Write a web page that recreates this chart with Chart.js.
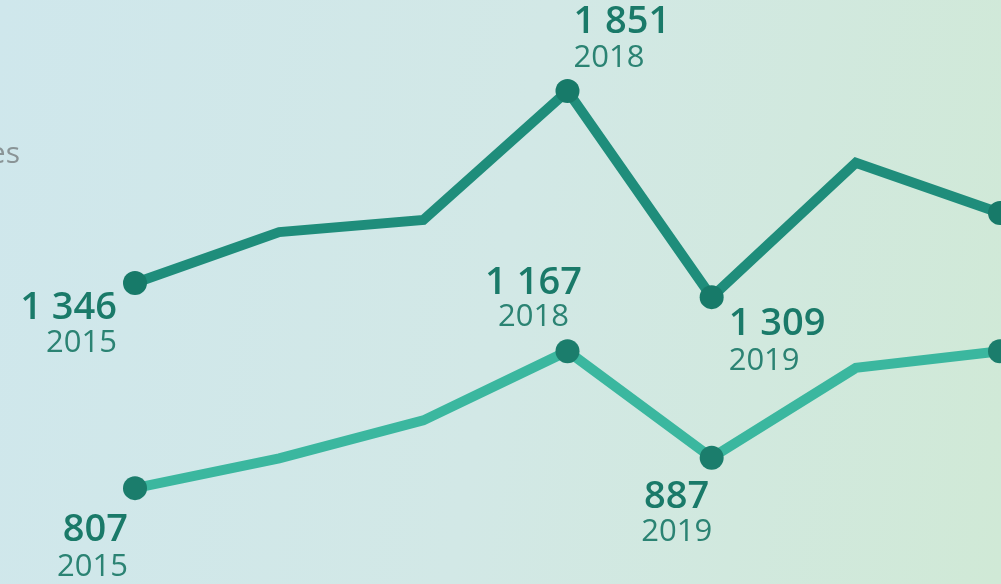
<!DOCTYPE html>
<html>
<head>
<meta charset="utf-8">
<script src="https://cdn.jsdelivr.net/npm/chart.js@4"></script>
<style>
    html, body { margin: 0; padding: 0; }
    body {
        width: 1001px; height: 584px; overflow: hidden;
        background: linear-gradient(100deg, #cfe7ec 0%, #d2e8e6 50%, #d0e9d6 100%);
    }
    #wrap { position: relative; width: 1001px; height: 584px; }
</style>
</head>
<body>
<div id="wrap"><canvas id="myChart"></canvas></div>
<script>
// Données
const annees = ["2015", "2016", "2017", "2018", "2019", "2020", "2021"];
const serieHaut = [1346, 1480, 1512, 1851, 1309, 1662, 1530];
const serieBas = [807, 885, 985, 1167, 887, 1123, 1167];
// Points affichés (avec un rond) et points annotés
const pointsVisibles = [0, 3, 4, 6];
const pointsAnnotes = [0, 3, 4];
const legendeCoupee = "es";

// Placement des étiquettes par rapport au point (style seulement)
const placementHaut = [
    {align: "right", dx: -18, dyVal: 25, dyAn: 60},
    {align: "left", dx: 6, dyVal: -69, dyAn: -33},
    {align: "left", dx: 17, dyVal: 27, dyAn: 64}
];
const placementBas = [
    {align: "right", dx: -7, dyVal: 42, dyAn: 79},
    {align: "center", dx: -34, dyVal: -68, dyAn: -34},
    {align: "center", dx: -35, dyVal: 39, dyAn: 74}
];

function formater(n) {
    return String(n).replace(/\B(?=(\d{3})+(?!\d))/g, " ");
}

function rayons(n) {
    let r = [];
    for (let i = 0; i < n; i++) {
        r.push(pointsVisibles.includes(i) ? 12 : 0);
    }
    return r;
}

// Plugin pour dessiner les valeurs et les années à côté des points
const etiquettes = {
    id: "etiquettes",
    afterDatasetsDraw(chart) {
        const ctx = chart.ctx;
        ctx.save();
        ctx.textBaseline = "middle";
        const placements = [placementHaut, placementBas];
        chart.data.datasets.forEach(function (ds, d) {
            const meta = chart.getDatasetMeta(d);
            pointsAnnotes.forEach(function (idx, k) {
                const p = meta.data[idx];
                const pl = placements[d][k];
                ctx.textAlign = pl.align;
                ctx.fillStyle = "#1a7a69";
                ctx.font = "600 38px 'Open Sans'";
                ctx.fillText(formater(ds.data[idx]), p.x + pl.dx, p.y + pl.dyVal);
                ctx.fillStyle = "#2b8373";
                ctx.font = "31px 'Open Sans'";
                ctx.fillText(annees[idx], p.x + pl.dx, p.y + pl.dyAn);
            });
        });
        // bout de légende coupé à gauche
        ctx.textAlign = "right";
        ctx.fillStyle = "#8a9496";
        ctx.font = "30px 'Open Sans'";
        ctx.fillText(legendeCoupee, 20, 154);
        ctx.restore();
    }
};

new Chart(document.getElementById("myChart").getContext("2d"), {
    type: "line",
    data: {
        labels: annees,
        datasets: [{
            data: serieHaut,
            borderColor: "#1f8d7b",
            borderWidth: 10,
            pointRadius: rayons(serieHaut.length),
            pointBackgroundColor: "#177a69",
            pointBorderWidth: 0,
            tension: 0,
            clip: false
        }, {
            data: serieBas,
            borderColor: "#3bb79f",
            borderWidth: 10,
            pointRadius: rayons(serieBas.length),
            pointBackgroundColor: "#1b7d6c",
            pointBorderWidth: 0,
            tension: 0,
            clip: false
        }]
    },
    options: {
        responsive: true,
        maintainAspectRatio: false,
        animation: false,
        layout: {autoPadding: false, padding: {left: 135, right: 1, top: 0, bottom: 0}},
        plugins: {legend: {display: false}, tooltip: {enabled: false}},
        scales: {
            x: {display: false, offset: false},
            y: {display: false, min: 555, max: 2090}
        }
    },
    plugins: [etiquettes]
});
</script>
</body>
</html>
